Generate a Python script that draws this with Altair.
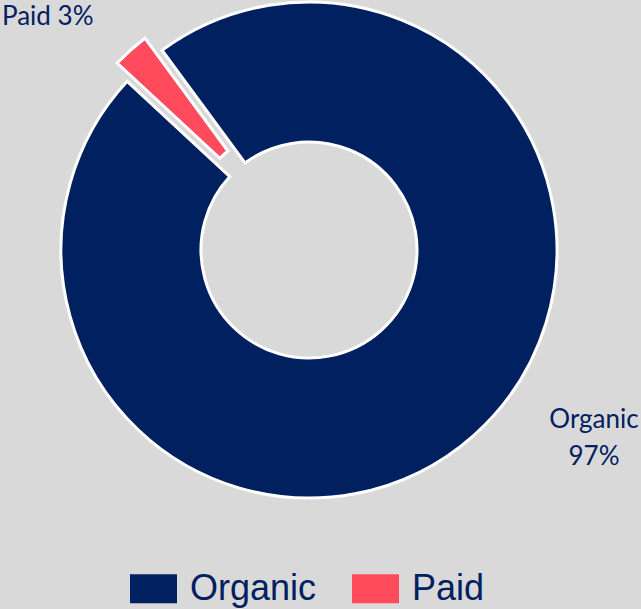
import math
import altair as alt
import pandas as pd

# ---- data ----
categories = ["Organic", "Paid"]
shares = [97, 3]
colors = ["#002060", "#FF4B5C"]

df = pd.DataFrame({"category": categories, "value": shares})

# ---- layout / style ----
W, H = 641, 609
CX, CY = 309, 250
R_OUT, R_IN = 248, 108
START = -0.6344                       # rotation of the first slice (radians)
EXPLODE_DX, EXPLODE_DY = -13.3, -14.9  # exploded "Paid" slice shift
NAVY = "#002060"

theta_scale = alt.Scale(domain=[0, 100], range=[START, START + 2 * math.pi])
color = alt.Color(
    "category:N",
    scale=alt.Scale(domain=categories, range=colors),
    legend=alt.Legend(
        title=None,
        orient="none",
        direction="horizontal",
        legendX=130,
        legendY=565,
        padding=0,
        symbolType="M-1,-0.62H1V0.62H-1Z",
        symbolSize=2209,
        symbolStrokeWidth=0,
        symbolOpacity=1,
        labelFont="Liberation Sans",
        labelFontSize=36,
        labelColor=NAVY,
        labelOffset=13,
        columnPadding=35,
        labelLimit=400,
    ),
)

base = alt.Chart(df).transform_stack(
    stack="value", groupby=[], as_=["v0", "v1"], sort=[alt.SortField("category")]
)

arc_kw = dict(outerRadius=R_OUT, innerRadius=R_IN, stroke="white", strokeWidth=3)

organic = base.transform_filter("datum.category == 'Organic'").mark_arc(**arc_kw).encode(
    theta=alt.Theta("v0:Q", scale=theta_scale),
    theta2="v1:Q",
    color=color,
    x=alt.value(CX),
    y=alt.value(CY),
)

paid = base.transform_filter("datum.category == 'Paid'").mark_arc(padAngle=0.035, **arc_kw).encode(
    theta=alt.Theta("v0:Q", scale=theta_scale),
    theta2="v1:Q",
    color=color,
    x=alt.value(CX + EXPLODE_DX),
    y=alt.value(CY + EXPLODE_DY),
)

label_kw = dict(font="Lato", fontSize=26, color=NAVY, baseline="alphabetic")

paid_label = (
    base.transform_filter("datum.category == 'Paid'")
    .transform_calculate(label="datum.category + ' ' + datum.value + '%'")
    .mark_text(align="left", **label_kw)
    .encode(text="label:N", x=alt.value(2), y=alt.value(25))
)

organic_label = (
    base.transform_filter("datum.category == 'Organic'")
    .transform_calculate(label="datum.category + '\\n' + datum.value + '%'")
    .mark_text(align="center", lineBreak="\n", lineHeight=37, **label_kw)
    .encode(text="label:N", x=alt.value(594), y=alt.value(428))
)

chart = (
    alt.layer(organic, paid, paid_label, organic_label)
    .properties(width=W, height=H, background="#d9d9d9", padding=0, autosize="none")
    .configure_view(stroke=None)
)

chart.save(
    "out.html",
    embed_options={
        "renderer": "svg",
        "actions": False,
        "defaultStyle": "body{margin:0;background:#d9d9d9;} .vega-embed{display:block;}",
    },
)
